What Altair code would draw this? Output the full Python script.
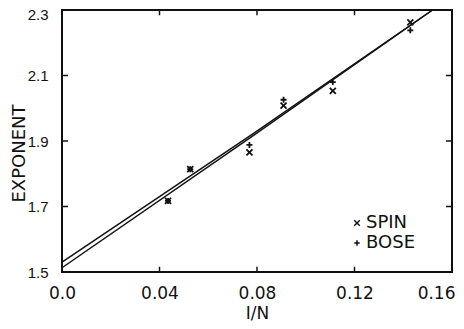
import altair as alt
import pandas as pd

# data
inv_n = [0.0435, 0.0526, 0.0769, 0.0909, 0.1111, 0.1429]
spin = [1.717, 1.814, 1.865, 2.008, 2.053, 2.262]
bose = [1.717, 1.814, 1.888, 2.026, 2.080, 2.238]

fit_x = [0.0, 0.078, 0.152]
fit_spin = [1.530, 1.920, 2.300]
fit_bose = [1.513, 1.914, 2.300]

x_ticks = [0.0, 0.04, 0.08, 0.12, 0.16]
y_ticks = [1.5, 1.7, 1.9, 2.1, 2.3]
inner_x_ticks = [0.04, 0.08, 0.12]
inner_y_ticks = [1.7, 1.9, 2.1]

X_PATH = "M-1,-1L1,1M-1,1L1,-1"
PLUS_PATH = "M-1,0L1,0M0,-1L0,1"
FONT = "DejaVu Sans"
YFONT = "Liberation Sans"
INK = "#111111"

pts = pd.DataFrame(
    [{"x": a, "y": b, "series": "SPIN"} for a, b in zip(inv_n, spin)]
    + [{"x": a, "y": b, "series": "BOSE"} for a, b in zip(inv_n, bose)]
)
fits = pd.DataFrame(
    [{"x": a, "y": b, "fit": "spin"} for a, b in zip(fit_x, fit_spin)]
    + [{"x": a, "y": b, "fit": "bose"} for a, b in zip(fit_x, fit_bose)]
)

xs = alt.Scale(domain=[0, 0.16], nice=False, zero=False)
ys = alt.Scale(domain=[1.5, 2.3], nice=False, zero=False)

x_axis = alt.Axis(
    values=x_ticks, title="I/N", grid=False, ticks=False, domain=False,
    labelExpr="datum.value == 0 ? '0.0' : format(datum.value, '.2f')",
    labelFont=FONT, labelFontSize=17, labelColor=INK, labelPadding=13,
    labelFlush=False, labelOverlap=False,
    labelAlign={"condition": {"test": "datum.value > 0.15", "value": "right"}, "value": "center"},
    labelOffset={"condition": {"test": "datum.value > 0.15", "value": 3}, "value": 0},
    titleFont=FONT, titleFontSize=17, titleFontWeight="normal", titleColor=INK,
    titlePadding=4,
)
y_axis = alt.Axis(
    values=y_ticks, title="EXPONENT", grid=False, ticks=False, domain=False,
    format=".1f", labelFont=YFONT, labelFontSize=15, labelColor=INK,
    labelPadding=14, labelFlush=False, labelOverlap=False,
    labelOffset={"condition": {"test": "datum.value > 2.25", "value": 4}, "value": 0},
    titleFont=FONT, titleFontSize=18, titleFontWeight="normal", titleColor=INK,
    titleX=-43, titleY=143, titleBaseline="middle",
)

lines = alt.Chart(fits).mark_line(color=INK, strokeWidth=1.5).encode(
    x=alt.X("x:Q", scale=xs, axis=x_axis),
    y=alt.Y("y:Q", scale=ys, axis=y_axis),
    detail="fit:N",
)

points = alt.Chart(pts).mark_point(
    filled=False, color=INK, strokeWidth=1.8, size=36, opacity=1
).encode(
    x=alt.X("x:Q", scale=xs),
    y=alt.Y("y:Q", scale=ys),
    shape=alt.Shape(
        "series:N",
        scale=alt.Scale(domain=["SPIN", "BOSE"], range=[X_PATH, PLUS_PATH]),
        legend=alt.Legend(
            title=None, orient="none", legendX=286, legendY=204,
            labelFont=FONT, labelFontSize=18, labelColor=INK,
            labelOffset=0, rowPadding=2, padding=0,
            symbolStrokeColor=INK, symbolStrokeWidth=1.5, symbolSize=30,
            symbolFillColor="transparent",
        ),
    ),
)

bx = pd.DataFrame({"x": inner_x_ticks})
by = pd.DataFrame({"y": inner_y_ticks})
tick_style = dict(color=INK, strokeWidth=1.5)
bottom_ticks = alt.Chart(bx).mark_rule(**tick_style).encode(
    x=alt.X("x:Q", scale=xs), y=alt.datum(1.5, scale=ys), y2=alt.datum(1.516)
)
top_ticks = alt.Chart(bx).mark_rule(**tick_style).encode(
    x=alt.X("x:Q", scale=xs), y=alt.datum(2.3, scale=ys), y2=alt.datum(2.284)
)
left_ticks = alt.Chart(by).mark_rule(**tick_style).encode(
    y=alt.Y("y:Q", scale=ys), x=alt.datum(0.0, scale=xs), x2=alt.datum(0.0025)
)
right_ticks = alt.Chart(by).mark_rule(**tick_style).encode(
    y=alt.Y("y:Q", scale=ys), x=alt.datum(0.16, scale=xs), x2=alt.datum(0.1575)
)

chart = (
    alt.layer(lines, points, bottom_ticks, top_ticks, left_ticks, right_ticks)
    .properties(
        width=390, height=262,
        autosize=alt.AutoSizeParams(type="none"),
        padding={"left": 54, "top": 2, "right": 4, "bottom": 49},
        background="white",
    )
    .configure_view(stroke=INK, strokeWidth=2)
)

chart.save("out.html", embed_options={"renderer": "svg", "actions": False})
